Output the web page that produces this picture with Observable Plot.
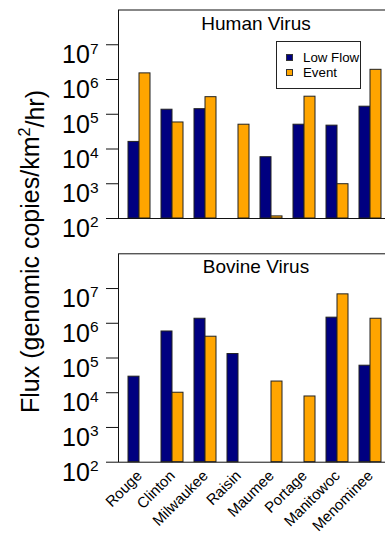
<!DOCTYPE html>
<html>
<head>
<meta charset="utf-8">
<script src="https://cdn.jsdelivr.net/npm/d3@7"></script>
<script src="https://cdn.jsdelivr.net/npm/@observablehq/plot@0.6"></script>
<style>
  body { margin: 0; background: white; }
  #wrap { position: relative; width: 385px; height: 534px; overflow: hidden; font-family: "Liberation Sans", Arial, sans-serif; }
  #wrap > .panel { position: absolute; left: 0; }
  #legend { position: absolute; left: 276px; top: 41px; width: 83px; height: 46px; border: 1px solid #222; background: white; font-size: 13.3px; }
  #legend .item { position: absolute; left: 9px; display: flex; align-items: center; }
  #legend .sw { width: 5px; height: 5px; border: 1px solid #333; margin-right: 10px; }
  #ytitle { position: absolute; left: 0; top: 0; pointer-events: none; }
</style>
</head>
<body>
<div id="wrap"></div>
<script>
const sites = ["Rouge", "Clinton", "Milwaukee", "Raisin", "Maumee", "Portage", "Manitowoc", "Menominee"];
const seriesNames = ["Low Flow", "Event"];
const seriesColors = ["#000080", "#FFA500"];
const yTicks = [1e2, 1e3, 1e4, 1e5, 1e6, 1e7];

const humanLowFlow = [1.6e4, 1.35e5, 1.4e5, 0, 5.8e3, 5.0e4, 4.7e4, 1.65e5];
const humanEvent   = [1.5e6, 5.8e4, 3.1e5, 5.0e4, 1.15e2, 3.2e5, 9.7e2, 1.9e6];
const bovineLowFlow = [2.9e4, 5.8e5, 1.35e6, 1.3e5, 0, 0, 1.45e6, 6.0e4];
const bovineEvent   = [0, 1.0e4, 4.1e5, 0, 2.1e4, 7.8e3, 6.8e6, 1.35e6];

const yTitleMain = "Flux (genomic copies/km";
const yTitleSup = "2";
const yTitleEnd = "/hr)";

const FONT = "Liberation Sans, Arial, sans-serif";
const svgns = "http://www.w3.org/2000/svg";

function panel(title, low, event, opts) {
  const lowRows = sites.map((s, i) => ({site: s, series: seriesNames[0], value: low[i]}));
  const evRows = sites.map((s, i) => ({site: s, series: seriesNames[1], value: event[i]}));
  const base = yTicks[0];
  const marks = [
    Plot.barY(lowRows, {x: "site", y1: base, y2: d => Math.max(d.value, base), fill: "series", stroke: "#222", strokeWidth: 1, insetRight: 11}),
    Plot.barY(evRows, {x: "site", y1: base, y2: d => Math.max(d.value, base), fill: "series", stroke: "#222", strokeWidth: 1, insetLeft: 11}),
    Plot.frame({stroke: "#111", strokeWidth: 1}),
    Plot.axisY({ticks: yTicks, tickSize: 12, tickPadding: 8, fontSize: 25, label: null, stroke: "#111", fill: "black",
      tickFormat: d => String(Math.round(Math.log10(d)))}),
    Plot.text([title], {frameAnchor: "top", lineAnchor: "top", dy: 6, fontSize: 19, fill: "black"})
  ];
  if (opts.showX) marks.push(Plot.axisX({tickRotate: -45, tickSize: 0, tickPadding: 11, fontSize: 15, label: null, fill: "black"}));
  const svg = Plot.plot({
    width: 385,
    height: opts.height,
    marginTop: opts.marginTop,
    marginBottom: opts.marginBottom,
    marginLeft: 118,
    marginRight: -8,
    style: {fontFamily: FONT, background: "transparent", color: "black"},
    x: Object.assign({type: "band", domain: sites, range: [122.5, 386.5], paddingInner: 1/3, paddingOuter: 1/6}, opts.showX ? {} : {axis: null}),
    y: {type: "log", domain: [1e2, 1e8]},
    color: {domain: seriesNames, range: seriesColors},
    marks
  });
  // superscript exponents on y tick labels
  svg.querySelectorAll('g[aria-label="y-axis tick label"] text').forEach(t => {
    const e = t.textContent;
    t.textContent = "10";
    t.setAttribute("dy", "0.42em");
    const ts = document.createElementNS(svgns, "tspan");
    ts.setAttribute("dy", "-0.62em");
    ts.setAttribute("font-size", "0.62em");
    ts.textContent = e;
    t.appendChild(ts);
  });
  svg.classList.add("panel");
  svg.style.top = opts.top + "px";
  svg.style.position = "absolute";
  return svg;
}

const wrap = document.getElementById("wrap");
wrap.appendChild(panel("Human Virus", humanLowFlow, humanEvent, {top: 0, height: 246, marginTop: 9.5, marginBottom: 28, showX: false}));
wrap.appendChild(panel("Bovine Virus", bovineLowFlow, bovineEvent, {top: 246, height: 288, marginTop: 7.3, marginBottom: 72.3, showX: true}));

// legend
const legend = document.createElement("div");
legend.id = "legend";
seriesNames.forEach((name, i) => {
  const item = document.createElement("div");
  item.className = "item";
  item.style.top = (8 + i * 15) + "px";
  const sw = document.createElement("div");
  sw.className = "sw";
  sw.style.background = seriesColors[i];
  const lab = document.createElement("span");
  lab.textContent = name;
  item.appendChild(sw);
  item.appendChild(lab);
  legend.appendChild(item);
});
wrap.appendChild(legend);

// shared y-axis title
const ts = document.createElementNS(svgns, "svg");
ts.id = "ytitle";
ts.setAttribute("width", 385);
ts.setAttribute("height", 534);
const tx = document.createElementNS(svgns, "text");
tx.setAttribute("transform", "translate(39,251.5) rotate(-90)");
tx.setAttribute("text-anchor", "middle");
tx.setAttribute("font-family", FONT);
tx.setAttribute("font-size", "25");
tx.setAttribute("fill", "black");
tx.appendChild(document.createTextNode(yTitleMain));
const sup = document.createElementNS(svgns, "tspan");
sup.setAttribute("dy", "-0.55em");
sup.setAttribute("font-size", "0.65em");
sup.textContent = yTitleSup;
tx.appendChild(sup);
const rest = document.createElementNS(svgns, "tspan");
rest.setAttribute("dy", "0.55em");
rest.setAttribute("font-size", "25");
rest.textContent = yTitleEnd;
tx.appendChild(rest);
ts.appendChild(tx);
wrap.appendChild(ts);
</script>
</body>
</html>
